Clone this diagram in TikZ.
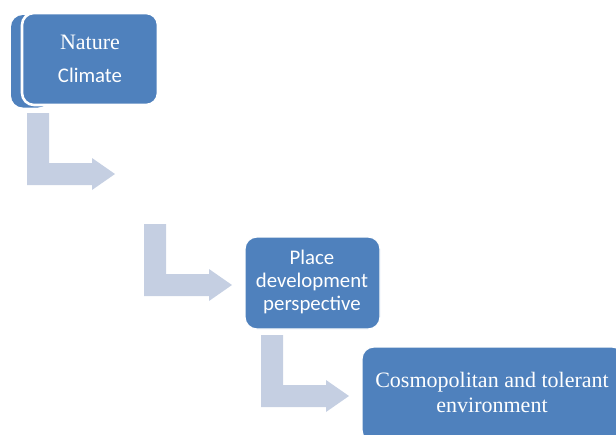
\documentclass[tikz,border=0pt]{standalone}
\usepackage{fontspec}
\setmainfont{Liberation Serif}
\newfontfamily\carl{Carlito}
\definecolor{boxblue}{RGB}{79,129,189}
\definecolor{arrowblue}{RGB}{197,207,226}
\tikzset{
  x=1pt, y=-1pt,
  blockbox/.style={fill=boxblue, draw=white, line width=1.2pt, rounded corners=12pt},
  bentarrow/.style={fill=arrowblue, draw=none},
  sertext/.style={text=white, font=\fontsize{22}{26}\selectfont, anchor=base, inner sep=0pt},
  santext/.style={text=white, font=\carl\fontsize{20.8}{24}\selectfont, anchor=base, inner sep=0pt},
}
\newcommand{\bentarrowat}[2]{%
  \fill[bentarrow] (#1,#2) -- ++(22,0) -- ++(0,50) -- ++(43,0) -- ++(0,-5)
    -- ++(23,16) -- ++(-23,16) -- ++(0,-5) -- ++(-65,0) -- cycle;}
\begin{document}
\begin{tikzpicture}
\useasboundingbox (0,0) rectangle (616,434);
\clip (0,0) rectangle (616,434);
% box 1 (with back shape)
\fill[boxblue, rounded corners=12pt] (11,15) rectangle (50,107.5);
\draw[blockbox, line width=2.6pt] (22,13) rectangle (158,105);
\node (box1) at (90,59) {};
\node[sertext] (t1a) at (90,49) {Nature};
\node[santext] (t1b) at (90,82) {Climate};
% arrows
\bentarrowat{27}{113}
\bentarrowat{144}{224}
\bentarrowat{261}{335}
% box 2
\draw[blockbox] (245,237) rectangle (380,329);
\node (box2) at (312,283) {};
\node[santext] (t2a) at (312,264) {Place};
\node[santext] (t2b) at (312,287) {development};
\node[santext] (t2c) at (312,310) {perspective};
% box 3
\draw[blockbox] (362,347) rectangle (624,442);
\node (box3) at (492,393) {};
\node[sertext] (t3a) at (492,387) {Cosmopolitan and tolerant};
\node[sertext] (t3b) at (492,412) {environment};
\end{tikzpicture}
\end{document}
